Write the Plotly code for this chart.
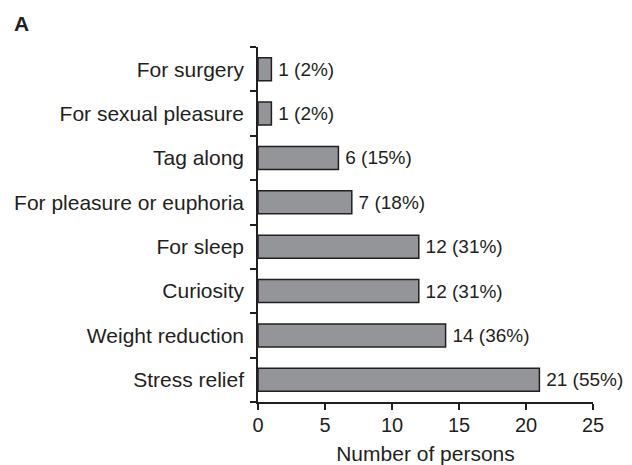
import plotly.graph_objects as go

categories = ["Stress relief", "Weight reduction", "Curiosity", "For sleep",
              "For pleasure or euphoria", "Tag along", "For sexual pleasure", "For surgery"]
counts = [21, 14, 12, 12, 7, 6, 1, 1]
percents = [55, 36, 31, 31, 18, 15, 2, 2]
x_ticks = [0, 5, 10, 15, 20, 25]

labels = [f"\u2009{c} ({p}%)" for c, p in zip(counts, percents)]
FONT = "Liberation Sans, Arial, sans-serif"
INK = "#231f20"

# page body has an 8px default margin; size and margins compensate for it
W, H = 624, 457
ML, MR, MT, MB = 250, 39, 39, 63
PW, PH = W - ML - MR, H - MT - MB

fig = go.Figure(go.Bar(
    x=counts, y=categories, orientation="h",
    width=0.52,
    marker=dict(color="#939598", line=dict(color=INK, width=1.5)),
    text=labels, textposition="outside", cliponaxis=False,
    textfont=dict(family=FONT, size=19, color=INK),
))

fig.update_layout(
    width=W, height=H,
    margin=dict(l=ML, r=MR, t=MT, b=MB, autoexpand=False),
    plot_bgcolor="white", paper_bgcolor="white",
    showlegend=False,
    font=dict(family=FONT, color=INK),
)
fig.add_annotation(text="<b>A</b>", xref="paper", yref="paper",
                   x=-(ML - 4) / PW, y=1 + 23.5 / PH, xanchor="left", yanchor="middle",
                   showarrow=False, font=dict(family=FONT, size=21, color=INK))

fig.update_xaxes(
    range=[0, 25], tickvals=x_ticks, showgrid=False, zeroline=False,
    showline=True, linecolor=INK, linewidth=1.5,
    ticks="outside", ticklen=6, tickwidth=1.5, tickcolor=INK,
    ticklabelstandoff=-2,
    tickfont=dict(family=FONT, size=20, color=INK),
    title=dict(text="Number of persons", font=dict(family=FONT, size=21, color=INK), standoff=14),
)
fig.update_yaxes(
    categoryorder="array", categoryarray=categories,
    showgrid=False, zeroline=False,
    showline=True, linecolor=INK, linewidth=1.5,
    ticks="outside", tickson="boundaries", ticklen=6, tickwidth=1.5, tickcolor=INK,
    ticklabelstandoff=8,
    tickfont=dict(family=FONT, size=21, color=INK),
)

fig.write_html("out.html")
